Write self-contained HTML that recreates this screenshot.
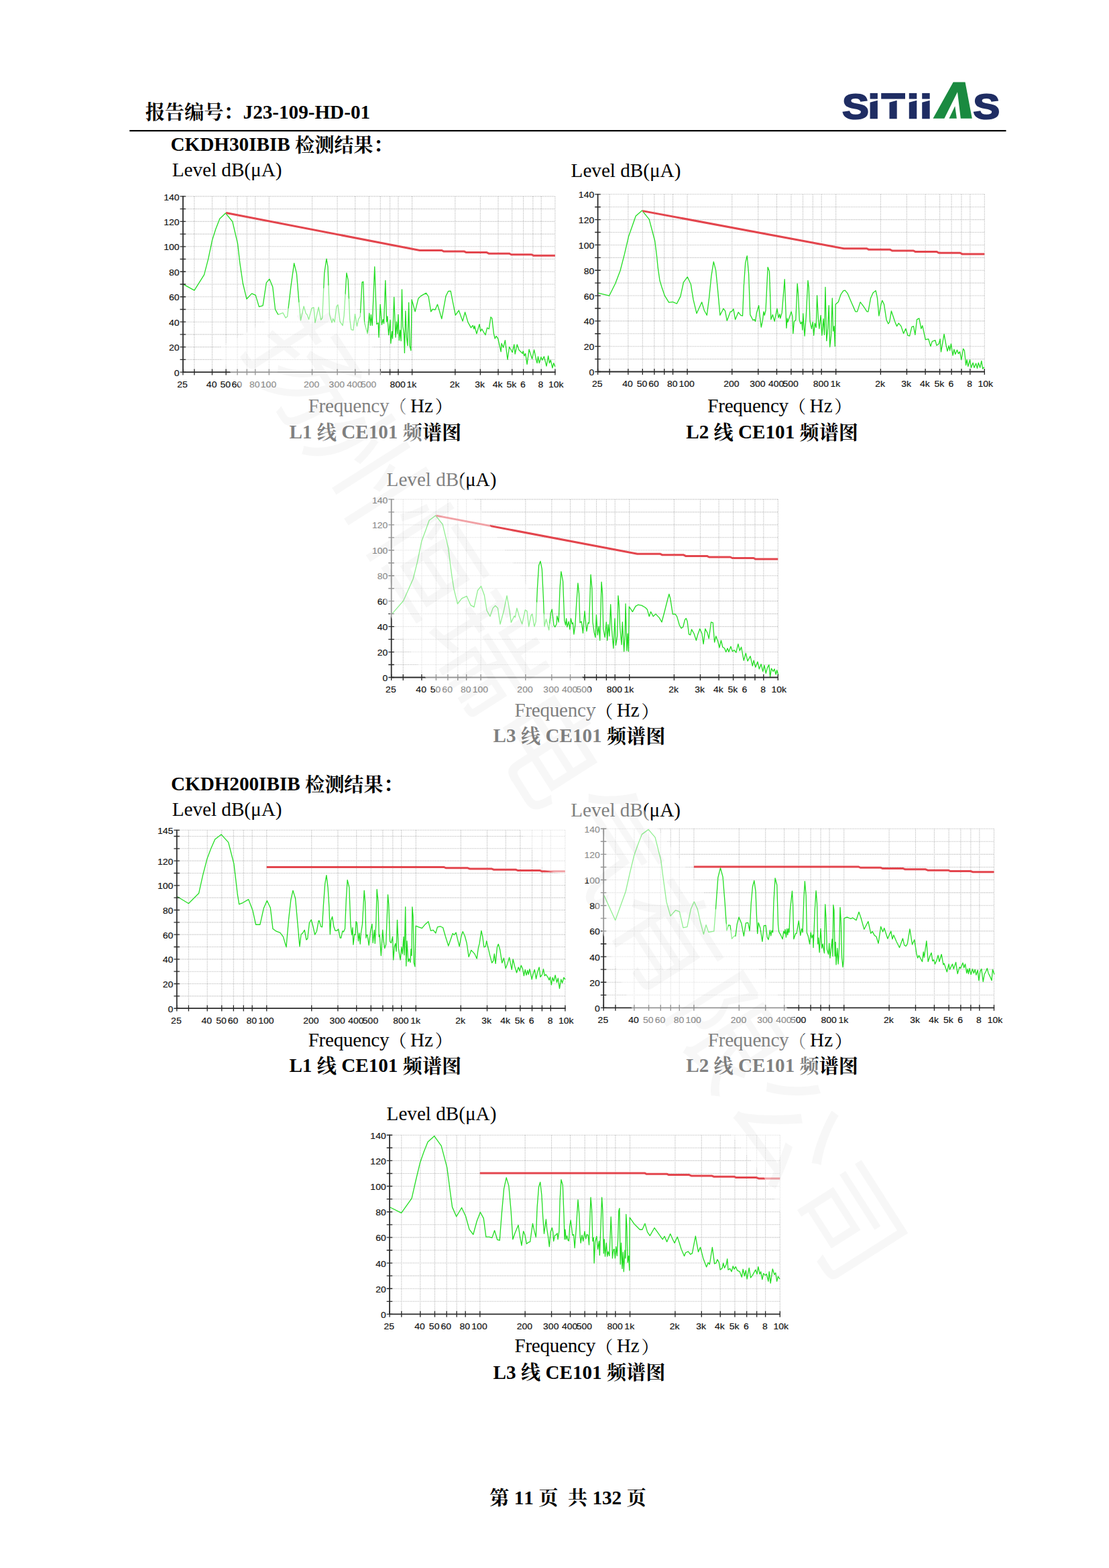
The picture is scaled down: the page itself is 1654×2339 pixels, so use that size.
<!DOCTYPE html>
<html lang="zh"><head><meta charset="utf-8"><title>J23-109-HD-01 CE101</title>
<style>
html,body{margin:0;padding:0;background:#fff}
body{width:1654px;height:2339px;overflow:hidden;font-family:"Liberation Serif","Noto Serif CJK SC",serif}
svg{display:block;font-family:"Liberation Serif","Noto Serif CJK SC",serif;font-kerning:none}
text{white-space:pre}
</style></head><body>
<svg width="1654" height="2339" viewBox="0 0 1654 2339">
<rect width="1654" height="2339" fill="#fff"/>
<text x="216.7" y="178.26" style="font-size:29.17px;font-weight:bold;" fill="#000">报告编号：</text>
<text x="362.55" y="176.8" style="font-size:29.17px;font-weight:bold;" fill="#000" xml:space="preserve">J23-109-HD-01</text>
<rect x="193.2" y="193.95" width="1307.3" height="2.2" fill="#000"/>
<text transform="translate(1256.2,176.7) scale(1.13,1)" style="font-family:'Liberation Sans',sans-serif;font-weight:bold;font-size:52.5px" fill="#1f2d63" stroke="#1f2d63" stroke-width="2.2">S</text>
<text transform="translate(1451.6,176.7) scale(1.13,1)" style="font-family:'Liberation Sans',sans-serif;font-weight:bold;font-size:52.5px" fill="#1f2d63" stroke="#1f2d63" stroke-width="2.2">S</text>
<rect x="1297.6" y="138.9" width="11.3" height="8.7" fill="#1f2d63"/>
<path d="M1297.6 152.7L1308.9 149.8V177.2H1297.6Z" fill="#1f2d63"/>
<rect x="1314.2" y="138.9" width="35.8" height="8.7" fill="#1f2d63"/>
<path d="M1326.5 152.7L1337.7 149.8V177.2H1326.5Z" fill="#1f2d63"/>
<rect x="1355.8" y="138.9" width="11.5" height="8.7" fill="#1f2d63"/>
<path d="M1355.8 152.7L1367.3 149.8V177.2H1355.8Z" fill="#1f2d63"/>
<rect x="1375.2" y="138.9" width="11.5" height="8.7" fill="#1f2d63"/>
<path d="M1375.2 152.7L1386.7 149.8V177.2H1375.2Z" fill="#1f2d63"/>
<path d="M1391.5 176.7L1421.7 122.4H1439.5L1449.8 176.7H1432.8L1428 137.2L1408.4 176.7Z" fill="#1a8a40"/>
<path d="M1424.3 158.2L1415.5 176.7H1426.9Z" fill="#1a8a40"/>
<text x="254.5" y="225.2" style="font-size:29.17px;font-weight:bold;" fill="#000" xml:space="preserve">CKDH30IBIB </text>
<text x="440.09" y="226.66" style="font-size:29.17px;font-weight:bold;" fill="#000">检测结果：</text>
<text x="254.9" y="1179.3" style="font-size:29.17px;font-weight:bold;" fill="#000" xml:space="preserve">CKDH200IBIB </text>
<text x="455.07" y="1180.76" style="font-size:29.17px;font-weight:bold;" fill="#000">检测结果：</text>
<path d="M272.9 536.37H827.9M272.9 517.64H827.9M272.9 498.91H827.9M272.9 480.19H827.9M272.9 461.46H827.9M272.9 442.73H827.9M272.9 424H827.9M272.9 405.27H827.9M272.9 386.54H827.9M272.9 367.81H827.9M272.9 349.09H827.9M272.9 330.36H827.9M272.9 311.63H827.9M272.9 292.9H827.9M289.79 292.9V555.1M316.44 292.9V555.1M337.11 292.9V555.1M354 292.9V555.1M368.28 292.9V555.1M380.64 292.9V555.1M401.31 292.9V555.1M465.52 292.9V555.1M503.08 292.9V555.1M529.73 292.9V555.1M550.4 292.9V555.1M567.29 292.9V555.1M581.57 292.9V555.1M593.94 292.9V555.1M614.61 292.9V555.1M678.81 292.9V555.1M716.37 292.9V555.1M743.02 292.9V555.1M763.69 292.9V555.1M780.58 292.9V555.1M794.86 292.9V555.1M807.23 292.9V555.1M827.9 292.9V555.1" stroke="#bababa" stroke-width="1.1" stroke-dasharray="1.25 1.25" fill="none"/>
<polyline points="272.59,423.62 289.83,433.1 304.48,409.83 310.52,386.55 316.55,358.1 321.72,341.72 327.76,326.21 336.38,317.93 346.72,330.52 354.48,363.28 357.93,393.45 362.24,422.76 367.93,446.03 375.52,437.93 381.21,440.34 386.38,457.59 392.07,455.86 397.24,421.9 401.9,416.21 406.72,427.93 410.52,461.55 414.83,469.31 422.07,466.72 426.03,474.14 428.62,471.9 433.79,427.93 438.62,392.59 442.41,408.1 445.86,450.34 448.45,477.93 453.1,456.9 456.21,467.59 457.93,469.31 460.52,476.55 464.83,459.83 467.93,458.62 470,481.38 475.17,458.1 478.62,477.07 480.69,474.48 483.79,407.24 486.9,386.21 488.97,397.76 491.55,469.31 495,481.38 496.72,475.34 498.97,480.52 501.9,457.24 503.97,454.66 507.07,479.66 511.03,485.69 513.1,471.03 516.9,407.24 519.14,417.59 521.72,476.21 523.79,491.72 526.9,492.59 529.48,468.45 532.41,486.55 534.66,476.21 537.24,471.9 540,421.07 541.79,420.18 543.57,481.79 548.04,497.86 550.71,467.5 552.5,485.36 553.39,469.29 555.18,485.36 558.75,397.86 561.79,483.57 564.11,481.79 565,503.21 567.14,454.11 569.46,484.46 571.25,476.43 572.5,482.68 574.82,418.39 576.61,480 577.86,471.96 579.64,499.64 581.96,477.32 582.86,512.14 584.64,494.29 585.54,505 587.68,443.39 590,503.21 591.43,480 592.68,497.86 593.93,469.29 595.36,507.68 596.79,492.5 598.04,508.57 599.46,431.79 600.71,487.14 602.5,497.86 603.39,526.43 604.82,463.93 606.43,503.21 607.86,515.71 609.64,451.43 611.07,515.71 612.86,522.86 613.57,487.14 614.11,446.96 615.89,453.21 619.11,464.82 623.93,445.18 627.5,441.61 635.54,437.14 639.11,442.5 642.68,464.82 645.36,461.25 648.93,462.14 652.5,454.11 658.75,475.54 665,441.61 668.57,434.46 672.14,434.11 674.82,447.86 679.29,470.18 684.29,463.04 690,479.11 693.57,465.71 698.04,480.89 702.5,488.93 705.18,485.36 706.96,490.71 707.86,486.25 710.89,497.86 715,483.57 716.79,494.29 718.57,490.71 723.93,499.64 726.61,488.93 729.29,490.71 731.96,472.86 733.75,474.64 736.43,497.86 738.21,505 740,501.43 742.68,505 747.14,524.64 748.04,512.14 750.71,518.39 753.39,507.68 756.96,536.25 759.64,517.5 764.11,525.54 766.79,513.93 768.21,528.21 771.25,513.93 773.93,521.96 779.29,527.32 780.18,523.75 781.96,530.89 783.75,527.32 786.07,543.39 789.11,521.07 793.57,535.36 796.61,521.96 799.82,537.14 801.07,541.61 802.5,531.79 804.29,541.61 806.96,532.68 808.75,537.14 811.43,531.79 815,546.07 817.68,530.89 819.46,541.61 821.25,537.14 823.93,548.75 825.71,541.61 827.86,546.96" fill="none" stroke="#22dd22" stroke-width="1.3" stroke-linejoin="round"/>
<polyline points="337.1,317.5 626,373.5 628.5,373.5 658.98,373.5 661.98,375.06 692.47,375.06 695.47,376.62 725.95,376.62 728.95,378.18 759.43,378.18 762.43,379.74 792.92,379.74 795.92,381.3 827.9,381.3" fill="none" stroke="#e3454d" stroke-width="3" stroke-linejoin="round"/>
<path d="M272.9 292.3V556M272 555.1H828.6" stroke="#2a2a2a" stroke-width="1.8" fill="none"/>
<path d="M268.5 555.1H277.1M268.5 536.37H277.1M268.5 517.64H277.1M268.5 498.91H277.1M268.5 480.19H277.1M268.5 461.46H277.1M268.5 442.73H277.1M268.5 424H277.1M268.5 405.27H277.1M268.5 386.54H277.1M268.5 367.81H277.1M268.5 349.09H277.1M268.5 330.36H277.1M268.5 311.63H277.1M268.5 292.9H277.1M272.9 550.5V559.5M289.79 550.5V559.5M316.44 550.5V559.5M337.11 550.5V559.5M354 550.5V559.5M368.28 550.5V559.5M380.64 550.5V559.5M401.31 550.5V559.5M465.52 550.5V559.5M503.08 550.5V559.5M529.73 550.5V559.5M550.4 550.5V559.5M567.29 550.5V559.5M581.57 550.5V559.5M593.94 550.5V559.5M614.61 550.5V559.5M678.81 550.5V559.5M716.37 550.5V559.5M743.02 550.5V559.5M763.69 550.5V559.5M780.58 550.5V559.5M794.86 550.5V559.5M807.23 550.5V559.5M827.9 550.5V559.5" stroke="#2a2a2a" stroke-width="1.35" fill="none"/>
<g style="font-family:'Liberation Sans',sans-serif;font-size:13.2px" fill="#111" stroke="#111" stroke-width="0.18"><text transform="translate(267.5,560.7) scale(1.06,1)" text-anchor="end">0</text><text transform="translate(267.5,523.24) scale(1.06,1)" text-anchor="end">20</text><text transform="translate(267.5,485.79) scale(1.06,1)" text-anchor="end">40</text><text transform="translate(267.5,448.33) scale(1.06,1)" text-anchor="end">60</text><text transform="translate(267.5,410.87) scale(1.06,1)" text-anchor="end">80</text><text transform="translate(267.5,373.41) scale(1.06,1)" text-anchor="end">100</text><text transform="translate(267.5,335.96) scale(1.06,1)" text-anchor="end">120</text><text transform="translate(267.5,298.5) scale(1.06,1)" text-anchor="end">140</text><text transform="translate(272.1,577.6) scale(1.06,1)" text-anchor="middle">25</text><text transform="translate(315.64,577.6) scale(1.06,1)" text-anchor="middle">40</text><text transform="translate(336.31,577.6) scale(1.06,1)" text-anchor="middle">50</text><text transform="translate(353.2,577.6) scale(1.06,1)" text-anchor="middle">60</text><text transform="translate(379.84,577.6) scale(1.06,1)" text-anchor="middle">80</text><text transform="translate(400.51,577.6) scale(1.06,1)" text-anchor="middle">100</text><text transform="translate(464.72,577.6) scale(1.06,1)" text-anchor="middle">200</text><text transform="translate(502.28,577.6) scale(1.06,1)" text-anchor="middle">300</text><text transform="translate(528.93,577.6) scale(1.06,1)" text-anchor="middle">400</text><text transform="translate(549.6,577.6) scale(1.06,1)" text-anchor="middle">500</text><text transform="translate(593.14,577.6) scale(1.06,1)" text-anchor="middle">800</text><text transform="translate(613.81,577.6) scale(1.06,1)" text-anchor="middle">1k</text><text transform="translate(678.01,577.6) scale(1.06,1)" text-anchor="middle">2k</text><text transform="translate(715.57,577.6) scale(1.06,1)" text-anchor="middle">3k</text><text transform="translate(742.22,577.6) scale(1.06,1)" text-anchor="middle">4k</text><text transform="translate(762.89,577.6) scale(1.06,1)" text-anchor="middle">5k</text><text transform="translate(779.78,577.6) scale(1.06,1)" text-anchor="middle">6</text><text transform="translate(806.43,577.6) scale(1.06,1)" text-anchor="middle">8</text><text transform="translate(829.3,577.6) scale(1.06,1)" text-anchor="middle">10k</text></g>
<path d="M891.6 535.59H1468.3M891.6 516.69H1468.3M891.6 497.78H1468.3M891.6 478.87H1468.3M891.6 459.96H1468.3M891.6 441.06H1468.3M891.6 422.15H1468.3M891.6 403.24H1468.3M891.6 384.34H1468.3M891.6 365.43H1468.3M891.6 346.52H1468.3M891.6 327.61H1468.3M891.6 308.71H1468.3M891.6 289.8H1468.3M909.15 289.8V554.5M936.84 289.8V554.5M958.32 289.8V554.5M975.87 289.8V554.5M990.7 289.8V554.5M1003.56 289.8V554.5M1025.04 289.8V554.5M1091.75 289.8V554.5M1130.78 289.8V554.5M1158.47 289.8V554.5M1179.95 289.8V554.5M1197.5 289.8V554.5M1212.34 289.8V554.5M1225.19 289.8V554.5M1246.67 289.8V554.5M1313.39 289.8V554.5M1352.41 289.8V554.5M1380.1 289.8V554.5M1401.58 289.8V554.5M1419.13 289.8V554.5M1433.97 289.8V554.5M1446.82 289.8V554.5M1468.3 289.8V554.5" stroke="#bababa" stroke-width="1.1" stroke-dasharray="1.25 1.25" fill="none"/>
<polyline points="892.27,437.23 908.61,441.22 917.7,423.06 924.96,403.98 931.32,379.46 937.68,352.21 943.13,336.77 948.22,322.24 957.66,314.06 968.2,327.14 976.73,359.48 979.46,381.28 981.28,399.44 984,418.51 987.63,430.32 991.27,440.86 997.62,451.21 1003.44,450.3 1009.43,453.03 1014.88,442.13 1019.42,421.24 1025.24,413.07 1030.32,423.96 1033.96,446.67 1039.04,467.56 1046.67,450.67 1050.3,463.02 1054.3,470.29 1057.57,444.85 1060.84,412.16 1064.29,390.36 1067.56,403.07 1070.29,430.32 1073.92,470.29 1079.01,460.3 1081.55,463.93 1084.27,478.46 1089.36,464.84 1091.18,464.84 1093.9,460.84 1096.63,476.64 1101.17,465.74 1104.8,470.29 1107.52,471.19 1109.34,426.69 1111.7,392.18 1114.25,381.64 1116.61,408.52 1118.79,469.38 1122.97,477.55 1125.15,476.64 1126.6,479.37 1128.42,466.65 1131.68,455.75 1133.5,473.92 1135.32,488.09 1137.5,477.55 1138.95,464.84 1140.22,470.29 1142.04,463.02 1145.13,398.53 1147.49,404.89 1149.85,476.64 1152.39,469.38 1155.12,479.37 1158.93,460.3 1161.11,473.92 1162.93,468.47 1163.84,474.83 1166.2,466.65 1170.2,416.7 1172.92,489.36 1174.19,474.83 1175,480.28 1177.18,473.92 1180.09,464.84 1181.9,472.1 1182.81,497.53 1184.45,479.37 1186.81,477.55 1189.17,423.06 1190.44,437.59 1192.26,477.55 1194.07,483 1195.89,480.28 1196.8,492.08 1197.71,467.56 1200.07,501.17 1202.25,472.1 1204.97,418.51 1206.24,428.51 1208.06,479.37 1210.42,490.27 1212.24,480.28 1213.69,500.26 1215.33,482.09 1217.14,488.45 1218.6,440.86 1220.41,475.74 1221.87,490.27 1224.05,470.29 1225.86,500.26 1228.04,475.74 1229.5,499.35 1230.95,428.51 1232.77,508.43 1234.58,490.27 1236.22,455.75 1237.67,517.52 1239.49,501.17 1241.3,444.85 1242.57,493.9 1244.03,486.63 1245.3,516.61 1246.21,453.94 1250.39,450.3 1254.02,439.41 1257.65,433.96 1260.38,433.05 1264.01,437.59 1269.46,450.3 1275.82,464.84 1278.54,464.84 1283.08,450.67 1287.62,456.66 1293.07,464.84 1294.89,464.84 1298.52,444.85 1302.16,436.68 1306.15,433.59 1308.51,444.85 1310.88,471.19 1313.96,453.94 1315.78,448.12 1318.51,453.94 1322.14,477.55 1324.86,483 1326.68,480.28 1329.41,463.93 1334.85,480.28 1337.58,486.63 1340.3,482.09 1343.94,486.63 1347.57,497.53 1350.84,490.27 1353.93,500.26 1356.65,501.17 1359.92,487.54 1362.47,486.63 1364.83,499.35 1367.55,476.64 1370.82,474.83 1373.91,490.27 1375.73,485.73 1380.27,506.62 1384.81,505.71 1387.9,516.61 1390.26,509.34 1394.8,507.52 1396.98,515.34 1400.25,512.97 1402.07,505.71 1403.52,524.78 1408.06,498.44 1411.15,515.7 1412.97,523.87 1415.15,515.7 1416.6,522.97 1418.42,512.97 1421.14,530.23 1422.96,521.15 1424.77,528.42 1427.5,522.06 1429.31,527.51 1431.49,524.78 1433.86,536.59 1436.58,520.24 1438.4,522.97 1440.58,544.76 1442.03,536.59 1443.85,546.58 1446.57,536.59 1448.39,548.4 1451.11,541.13 1452.93,548.4 1455.65,542.04 1457.47,549.31 1459.29,541.13 1461.65,548.4 1463.83,538.41 1465.64,550.21 1467.82,547.49" fill="none" stroke="#22dd22" stroke-width="1.3" stroke-linejoin="round"/>
<polyline points="958.3,314.6 1258.5,370.7 1261,370.7 1292.8,370.7 1295.8,372.34 1327.6,372.34 1330.6,373.98 1362.4,373.98 1365.4,375.62 1397.2,375.62 1400.2,377.26 1432,377.26 1435,378.9 1468.3,378.9" fill="none" stroke="#e3454d" stroke-width="3" stroke-linejoin="round"/>
<path d="M891.6 289.2V555.4M890.7 554.5H1469" stroke="#2a2a2a" stroke-width="1.8" fill="none"/>
<path d="M887.2 554.5H895.8M887.2 535.59H895.8M887.2 516.69H895.8M887.2 497.78H895.8M887.2 478.87H895.8M887.2 459.96H895.8M887.2 441.06H895.8M887.2 422.15H895.8M887.2 403.24H895.8M887.2 384.34H895.8M887.2 365.43H895.8M887.2 346.52H895.8M887.2 327.61H895.8M887.2 308.71H895.8M887.2 289.8H895.8M891.6 549.9V558.9M909.15 549.9V558.9M936.84 549.9V558.9M958.32 549.9V558.9M975.87 549.9V558.9M990.7 549.9V558.9M1003.56 549.9V558.9M1025.04 549.9V558.9M1091.75 549.9V558.9M1130.78 549.9V558.9M1158.47 549.9V558.9M1179.95 549.9V558.9M1197.5 549.9V558.9M1212.34 549.9V558.9M1225.19 549.9V558.9M1246.67 549.9V558.9M1313.39 549.9V558.9M1352.41 549.9V558.9M1380.1 549.9V558.9M1401.58 549.9V558.9M1419.13 549.9V558.9M1433.97 549.9V558.9M1446.82 549.9V558.9M1468.3 549.9V558.9" stroke="#2a2a2a" stroke-width="1.35" fill="none"/>
<g style="font-family:'Liberation Sans',sans-serif;font-size:13.2px" fill="#111" stroke="#111" stroke-width="0.18"><text transform="translate(886.2,560.1) scale(1.06,1)" text-anchor="end">0</text><text transform="translate(886.2,522.29) scale(1.06,1)" text-anchor="end">20</text><text transform="translate(886.2,484.47) scale(1.06,1)" text-anchor="end">40</text><text transform="translate(886.2,446.66) scale(1.06,1)" text-anchor="end">60</text><text transform="translate(886.2,408.84) scale(1.06,1)" text-anchor="end">80</text><text transform="translate(886.2,371.03) scale(1.06,1)" text-anchor="end">100</text><text transform="translate(886.2,333.21) scale(1.06,1)" text-anchor="end">120</text><text transform="translate(886.2,295.4) scale(1.06,1)" text-anchor="end">140</text><text transform="translate(890.8,577) scale(1.06,1)" text-anchor="middle">25</text><text transform="translate(936.04,577) scale(1.06,1)" text-anchor="middle">40</text><text transform="translate(957.52,577) scale(1.06,1)" text-anchor="middle">50</text><text transform="translate(975.07,577) scale(1.06,1)" text-anchor="middle">60</text><text transform="translate(1002.76,577) scale(1.06,1)" text-anchor="middle">80</text><text transform="translate(1024.24,577) scale(1.06,1)" text-anchor="middle">100</text><text transform="translate(1090.95,577) scale(1.06,1)" text-anchor="middle">200</text><text transform="translate(1129.98,577) scale(1.06,1)" text-anchor="middle">300</text><text transform="translate(1157.67,577) scale(1.06,1)" text-anchor="middle">400</text><text transform="translate(1179.15,577) scale(1.06,1)" text-anchor="middle">500</text><text transform="translate(1224.39,577) scale(1.06,1)" text-anchor="middle">800</text><text transform="translate(1245.87,577) scale(1.06,1)" text-anchor="middle">1k</text><text transform="translate(1312.59,577) scale(1.06,1)" text-anchor="middle">2k</text><text transform="translate(1351.61,577) scale(1.06,1)" text-anchor="middle">3k</text><text transform="translate(1379.3,577) scale(1.06,1)" text-anchor="middle">4k</text><text transform="translate(1400.78,577) scale(1.06,1)" text-anchor="middle">5k</text><text transform="translate(1418.33,577) scale(1.06,1)" text-anchor="middle">6</text><text transform="translate(1446.02,577) scale(1.06,1)" text-anchor="middle">8</text><text transform="translate(1469.7,577) scale(1.06,1)" text-anchor="middle">10k</text></g>
<path d="M583.7 991.53H1160.3M583.7 972.56H1160.3M583.7 953.59H1160.3M583.7 934.61H1160.3M583.7 915.64H1160.3M583.7 896.67H1160.3M583.7 877.7H1160.3M583.7 858.73H1160.3M583.7 839.76H1160.3M583.7 820.79H1160.3M583.7 801.81H1160.3M583.7 782.84H1160.3M583.7 763.87H1160.3M583.7 744.9H1160.3M601.25 744.9V1010.5M628.93 744.9V1010.5M650.41 744.9V1010.5M667.95 744.9V1010.5M682.79 744.9V1010.5M695.64 744.9V1010.5M717.11 744.9V1010.5M783.82 744.9V1010.5M822.84 744.9V1010.5M850.53 744.9V1010.5M872 744.9V1010.5M889.55 744.9V1010.5M904.38 744.9V1010.5M917.23 744.9V1010.5M938.71 744.9V1010.5M1005.41 744.9V1010.5M1044.43 744.9V1010.5M1072.12 744.9V1010.5M1093.59 744.9V1010.5M1111.14 744.9V1010.5M1125.97 744.9V1010.5M1138.83 744.9V1010.5M1160.3 744.9V1010.5" stroke="#bababa" stroke-width="1.1" stroke-dasharray="1.25 1.25" fill="none"/>
<polyline points="584.36,916.2 601.61,896.22 616.15,863.52 622.5,838.09 628.86,807.21 635.22,789.95 640.13,776.33 649.75,769.06 660.11,782.14 668.83,818.11 671.55,841.73 674.28,861.71 677,878.96 682.45,900.76 688.81,892.59 696.07,889.32 701.89,902.58 706.97,905.67 712.42,880.78 717.51,874.42 722.41,888.05 726.05,910.75 730.95,919.47 735.13,907.12 738.76,903.49 742.4,907.12 746.03,931.1 751.48,910.75 756.02,888.59 759.65,908.94 762.38,928.56 766.92,918.93 768.37,920.74 770.92,907.12 774.19,918.93 778.73,930.74 783.27,909.85 785.99,911.66 788.72,934.73 791.99,918.02 793.8,915.84 796.89,934.73 799.25,927.1 801.43,878.06 803.61,843.54 805.97,837.18 808.34,848.99 810.52,894.41 811.97,934.73 814.51,923.47 818.69,939.82 821.42,914.39 823.23,908.94 825.96,932.55 827.77,935.28 830.13,930.74 830.86,918.93 833.22,928.01 835.04,878.06 836.86,852.62 839.58,867.16 841.76,925.29 843.58,932.55 844.67,922.56 845.94,935.28 848.12,927.1 849.93,938.91 851.39,922.56 853.2,930.74 854.48,928.92 855.93,946.18 857.75,933.46 859.56,903.49 861.92,869.88 863.56,885.32 865.01,928.92 867.19,927.1 868,932.55 869.45,944.36 872,911.66 874.9,941.63 877.08,928.92 878.54,929.83 881.08,857.17 882.9,878.06 883.99,928.01 886.17,943.45 887.98,950.72 889.44,917.11 891.25,947.08 893.07,934.37 894.7,955.26 897.06,868.07 898.52,885.32 899.79,938 902.15,950.72 904.33,928.01 905.78,955.26 907.06,931.64 908.87,948.9 910.69,901.67 912.5,939.82 914.87,967.07 917.05,922.56 918.5,962.52 920.68,948.9 921.95,888.59 923.4,903.49 924.68,936.19 927.04,961.62 928.31,928.01 930.67,971.61 932.12,947.08 933.03,900.76 934.85,970.7 936.12,945.27 937.39,971.61 938.3,904.94 943.39,912.57 947.93,904.4 951.56,902.22 957.01,903.12 962.46,906.21 965.18,908.94 968.27,919.47 970.63,912.57 974.27,919.47 977.9,915.84 983.35,921.65 986.98,928.01 991.52,910.75 995.16,896.22 997.88,886.23 999.7,892.59 1003.33,916.2 1006.96,915.84 1009.69,919.84 1013.32,932.55 1016.05,937.09 1018.77,935.28 1021.5,924.38 1023.31,922.56 1025.13,927.1 1027.49,946.18 1029.67,947.08 1031.49,938.91 1035.12,945.27 1038.39,955.26 1040.57,947.08 1043.84,938 1046.93,945.27 1049.11,960.71 1051.83,938 1055.1,944.36 1057.28,952.53 1060.55,928.01 1063.28,928.92 1065.64,957.98 1067.82,948.9 1070.54,956.17 1072.9,966.16 1075.45,955.26 1077.81,965.25 1080.53,967.07 1082.71,972.52 1085.08,967.07 1086.89,972.52 1089.98,964.34 1092.34,971.61 1095.07,969.79 1097.79,973.42 1100.88,960.71 1103.24,970.7 1105.6,965.25 1109.24,985.23 1112.32,974.33 1115.05,986.14 1119.04,978.87 1122.31,993.41 1124.13,985.23 1126.86,995.22 1129.94,987.05 1132.31,997.95 1135.03,990.68 1137.75,1001.58 1139.93,992.5 1142.3,1004.31 1144.48,996.13 1146.84,991.59 1148.65,1009.75 1150.47,997.04 1153.2,1001.58 1155.01,997.95 1157.19,1006.12 1158.64,999.76 1160.82,1007.03" fill="none" stroke="#22dd22" stroke-width="1.3" stroke-linejoin="round"/>
<polyline points="650.4,769.1 950.6,826.3 953.1,826.3 984.88,826.3 987.88,827.86 1019.67,827.86 1022.67,829.42 1054.45,829.42 1057.45,830.98 1089.23,830.98 1092.23,832.54 1124.02,832.54 1127.02,834.1 1160.3,834.1" fill="none" stroke="#e3454d" stroke-width="3" stroke-linejoin="round"/>
<path d="M583.7 744.3V1011.4M582.8 1010.5H1161" stroke="#2a2a2a" stroke-width="1.8" fill="none"/>
<path d="M579.3 1010.5H587.9M579.3 991.53H587.9M579.3 972.56H587.9M579.3 953.59H587.9M579.3 934.61H587.9M579.3 915.64H587.9M579.3 896.67H587.9M579.3 877.7H587.9M579.3 858.73H587.9M579.3 839.76H587.9M579.3 820.79H587.9M579.3 801.81H587.9M579.3 782.84H587.9M579.3 763.87H587.9M579.3 744.9H587.9M583.7 1005.9V1014.9M601.25 1005.9V1014.9M628.93 1005.9V1014.9M650.41 1005.9V1014.9M667.95 1005.9V1014.9M682.79 1005.9V1014.9M695.64 1005.9V1014.9M717.11 1005.9V1014.9M783.82 1005.9V1014.9M822.84 1005.9V1014.9M850.53 1005.9V1014.9M872 1005.9V1014.9M889.55 1005.9V1014.9M904.38 1005.9V1014.9M917.23 1005.9V1014.9M938.71 1005.9V1014.9M1005.41 1005.9V1014.9M1044.43 1005.9V1014.9M1072.12 1005.9V1014.9M1093.59 1005.9V1014.9M1111.14 1005.9V1014.9M1125.97 1005.9V1014.9M1138.83 1005.9V1014.9M1160.3 1005.9V1014.9" stroke="#2a2a2a" stroke-width="1.35" fill="none"/>
<g style="font-family:'Liberation Sans',sans-serif;font-size:13.2px" fill="#111" stroke="#111" stroke-width="0.18"><text transform="translate(578.3,1016.1) scale(1.06,1)" text-anchor="end">0</text><text transform="translate(578.3,978.16) scale(1.06,1)" text-anchor="end">20</text><text transform="translate(578.3,940.21) scale(1.06,1)" text-anchor="end">40</text><text transform="translate(578.3,902.27) scale(1.06,1)" text-anchor="end">60</text><text transform="translate(578.3,864.33) scale(1.06,1)" text-anchor="end">80</text><text transform="translate(578.3,826.39) scale(1.06,1)" text-anchor="end">100</text><text transform="translate(578.3,788.44) scale(1.06,1)" text-anchor="end">120</text><text transform="translate(578.3,750.5) scale(1.06,1)" text-anchor="end">140</text><text transform="translate(582.9,1033) scale(1.06,1)" text-anchor="middle">25</text><text transform="translate(628.13,1033) scale(1.06,1)" text-anchor="middle">40</text><text transform="translate(649.61,1033) scale(1.06,1)" text-anchor="middle">50</text><text transform="translate(667.15,1033) scale(1.06,1)" text-anchor="middle">60</text><text transform="translate(694.84,1033) scale(1.06,1)" text-anchor="middle">80</text><text transform="translate(716.31,1033) scale(1.06,1)" text-anchor="middle">100</text><text transform="translate(783.02,1033) scale(1.06,1)" text-anchor="middle">200</text><text transform="translate(822.04,1033) scale(1.06,1)" text-anchor="middle">300</text><text transform="translate(849.73,1033) scale(1.06,1)" text-anchor="middle">400</text><text transform="translate(871.2,1033) scale(1.06,1)" text-anchor="middle">500</text><text transform="translate(916.43,1033) scale(1.06,1)" text-anchor="middle">800</text><text transform="translate(937.91,1033) scale(1.06,1)" text-anchor="middle">1k</text><text transform="translate(1004.61,1033) scale(1.06,1)" text-anchor="middle">2k</text><text transform="translate(1043.63,1033) scale(1.06,1)" text-anchor="middle">3k</text><text transform="translate(1071.32,1033) scale(1.06,1)" text-anchor="middle">4k</text><text transform="translate(1092.79,1033) scale(1.06,1)" text-anchor="middle">5k</text><text transform="translate(1110.34,1033) scale(1.06,1)" text-anchor="middle">6</text><text transform="translate(1138.03,1033) scale(1.06,1)" text-anchor="middle">8</text><text transform="translate(1161.7,1033) scale(1.06,1)" text-anchor="middle">10k</text></g>
<path d="M263.7 1485.86H842.9M263.7 1467.52H842.9M263.7 1449.19H842.9M263.7 1430.85H842.9M263.7 1412.51H842.9M263.7 1394.17H842.9M263.7 1375.83H842.9M263.7 1357.5H842.9M263.7 1339.16H842.9M263.7 1320.82H842.9M263.7 1302.48H842.9M263.7 1284.14H842.9M263.7 1265.81H842.9M263.7 1247.47H842.9M263.7 1238.3H842.9M281.33 1238.3V1504.2M309.14 1238.3V1504.2M330.71 1238.3V1504.2M348.33 1238.3V1504.2M363.23 1238.3V1504.2M376.14 1238.3V1504.2M397.71 1238.3V1504.2M464.72 1238.3V1504.2M503.92 1238.3V1504.2M531.73 1238.3V1504.2M553.3 1238.3V1504.2M570.93 1238.3V1504.2M585.83 1238.3V1504.2M598.74 1238.3V1504.2M620.31 1238.3V1504.2M687.31 1238.3V1504.2M726.51 1238.3V1504.2M754.32 1238.3V1504.2M775.89 1238.3V1504.2M793.52 1238.3V1504.2M808.42 1238.3V1504.2M821.33 1238.3V1504.2M842.9 1238.3V1504.2" stroke="#bababa" stroke-width="1.1" stroke-dasharray="1.25 1.25" fill="none"/>
<polyline points="264.36,1337.45 281.25,1347.8 296.51,1332.55 302.5,1305.66 308.86,1281.14 314.31,1266.61 320.67,1252.07 330.12,1244.81 340.65,1256.61 348.83,1288.4 351.55,1311.11 354.28,1334.73 356.64,1348.89 362.45,1346.53 370.62,1341.63 376.98,1358.34 381.52,1379.23 387.88,1379.23 393.33,1354.71 398.24,1343.45 403.32,1354.34 406.96,1385.59 412.04,1389.22 417.85,1391.4 422.4,1397.4 426.94,1412.84 430.57,1371.06 433.84,1341.99 436.93,1328.37 440.56,1340.18 443.65,1374.69 446.92,1411.93 449.1,1393.76 451.46,1391.95 454.19,1387.41 456.91,1401.94 458.73,1400.12 461.45,1376.51 464.18,1371.96 466.9,1381.96 469.63,1394.31 472.35,1389.22 475.08,1373.78 475.98,1373.24 478.71,1382.32 480.52,1382.86 482.34,1351.07 484.7,1318.38 486.88,1305.66 489.06,1323.83 490.88,1352.89 492.33,1393.76 493.6,1372.87 495.6,1367.42 497.78,1381.96 499.96,1388.31 502.32,1388.31 504.68,1385.95 507.23,1399.21 508.68,1399.21 510.86,1388.86 512.31,1390.13 514.49,1385.59 516.31,1341.99 518.13,1312.56 520.85,1323.83 522.85,1378.32 524.67,1394.67 525.94,1383.77 526.85,1409.2 528.66,1393.76 529.93,1394.67 531.02,1374.69 532.3,1376.51 534.48,1403.75 535.93,1391.95 537.2,1408.3 538.29,1392.85 540.47,1378.32 543.2,1328.37 544.65,1345.62 545.92,1399.21 546.83,1394.67 548,1394.67 550.18,1410.11 552.54,1389.22 554.9,1378.32 556.17,1406.48 558.35,1387.41 559.26,1407.39 560.72,1380.14 562.17,1326.55 563.99,1345.62 565.26,1397.4 566.17,1394.67 568.35,1425.55 570.71,1387.41 571.98,1401.94 573.79,1414.65 575.61,1409.2 577.06,1372.87 578.52,1334.73 579.79,1349.26 581.61,1404.66 583.42,1406.48 585.6,1397.4 586.69,1431.91 588.33,1411.93 589.78,1407.39 591.05,1419.19 592.5,1372.51 594.32,1414.65 595.59,1422.83 597.05,1431.91 598.86,1412.84 600.32,1422.83 601.95,1397.4 603.04,1424.64 604.68,1352.89 605.77,1440.99 607.04,1403.75 608.85,1434.63 610.31,1430.09 611.94,1435.54 613.03,1415.56 613.94,1425.55 614.85,1352.89 616.12,1367.42 617.39,1436.45 618.84,1441.9 620.12,1381.05 624.29,1382.86 629.38,1384.68 634.29,1378.69 638.83,1374.69 642.46,1388.31 646.09,1387.41 649.73,1391.95 652.45,1382.86 656.99,1381.96 660.62,1383.77 664.26,1396.49 668.8,1411.02 675.16,1392.49 677.34,1394.67 680.06,1391.04 685.15,1411.93 687.87,1396.49 690.23,1389.58 693.32,1396.49 696.05,1406.48 699.14,1427.37 702.77,1417.38 707.85,1422.83 711.12,1430.09 713.3,1414.65 715.12,1407.39 717.85,1388.31 719.66,1396.49 721.84,1412.84 724.2,1411.93 725.66,1403.75 727.84,1412.84 730.56,1424.64 733.65,1436.45 736.01,1432.82 737.28,1422.83 739.1,1437.36 741.46,1412.84 743.28,1408.3 745.64,1416.47 748.73,1436.45 751.45,1429.19 754.18,1444.63 756.9,1437.36 759.63,1428.28 763.26,1446.44 765.08,1431 767.8,1441.9 770.52,1450.98 773.25,1442.81 775.07,1448.26 777.25,1440.08 779.61,1445.53 781.42,1455.52 783.24,1446.44 785.06,1454.62 786.87,1447.35 788.15,1453.71 789.96,1445.53 793.23,1460.97 795.41,1451.89 797.23,1446.44 799.59,1460.07 801.41,1450.98 804.13,1442.81 805.95,1457.34 808.67,1453.71 810.49,1445.53 812.31,1455.52 814.12,1453.71 816.85,1457.34 819.03,1461.88 820.48,1457.34 822.3,1469.15 824.11,1458.25 825.93,1463.7 828.11,1454.62 830.47,1465.52 832.29,1459.16 834.47,1474.6 836.83,1460.97 838.64,1466.42 840.82,1458.25 843,1460.97" fill="none" stroke="#22dd22" stroke-width="1.3" stroke-linejoin="round"/>
<polyline points="397.7,1293.5 662.3,1293.5 664.8,1294.76 697.72,1294.76 700.72,1296.02 733.64,1296.02 736.64,1297.28 769.56,1297.28 772.56,1298.54 805.48,1298.54 808.48,1299.8 842.9,1299.8" fill="none" stroke="#e3454d" stroke-width="3" stroke-linejoin="round"/>
<path d="M263.7 1237.7V1505.1M262.8 1504.2H843.6" stroke="#2a2a2a" stroke-width="1.8" fill="none"/>
<path d="M259.3 1504.2H267.9M259.3 1485.86H267.9M259.3 1467.52H267.9M259.3 1449.19H267.9M259.3 1430.85H267.9M259.3 1412.51H267.9M259.3 1394.17H267.9M259.3 1375.83H267.9M259.3 1357.5H267.9M259.3 1339.16H267.9M259.3 1320.82H267.9M259.3 1302.48H267.9M259.3 1284.14H267.9M259.3 1265.81H267.9M259.3 1247.47H267.9M259.3 1238.3H267.9M263.7 1499.6V1508.6M281.33 1499.6V1508.6M309.14 1499.6V1508.6M330.71 1499.6V1508.6M348.33 1499.6V1508.6M363.23 1499.6V1508.6M376.14 1499.6V1508.6M397.71 1499.6V1508.6M464.72 1499.6V1508.6M503.92 1499.6V1508.6M531.73 1499.6V1508.6M553.3 1499.6V1508.6M570.93 1499.6V1508.6M585.83 1499.6V1508.6M598.74 1499.6V1508.6M620.31 1499.6V1508.6M687.31 1499.6V1508.6M726.51 1499.6V1508.6M754.32 1499.6V1508.6M775.89 1499.6V1508.6M793.52 1499.6V1508.6M808.42 1499.6V1508.6M821.33 1499.6V1508.6M842.9 1499.6V1508.6" stroke="#2a2a2a" stroke-width="1.35" fill="none"/>
<g style="font-family:'Liberation Sans',sans-serif;font-size:13.2px" fill="#111" stroke="#111" stroke-width="0.18"><text transform="translate(258.3,1509.8) scale(1.06,1)" text-anchor="end">0</text><text transform="translate(258.3,1473.12) scale(1.06,1)" text-anchor="end">20</text><text transform="translate(258.3,1436.45) scale(1.06,1)" text-anchor="end">40</text><text transform="translate(258.3,1399.77) scale(1.06,1)" text-anchor="end">60</text><text transform="translate(258.3,1363.1) scale(1.06,1)" text-anchor="end">80</text><text transform="translate(258.3,1326.42) scale(1.06,1)" text-anchor="end">100</text><text transform="translate(258.3,1289.74) scale(1.06,1)" text-anchor="end">120</text><text transform="translate(258.3,1243.9) scale(1.06,1)" text-anchor="end">145</text><text transform="translate(262.9,1526.7) scale(1.06,1)" text-anchor="middle">25</text><text transform="translate(308.34,1526.7) scale(1.06,1)" text-anchor="middle">40</text><text transform="translate(329.91,1526.7) scale(1.06,1)" text-anchor="middle">50</text><text transform="translate(347.53,1526.7) scale(1.06,1)" text-anchor="middle">60</text><text transform="translate(375.34,1526.7) scale(1.06,1)" text-anchor="middle">80</text><text transform="translate(396.91,1526.7) scale(1.06,1)" text-anchor="middle">100</text><text transform="translate(463.92,1526.7) scale(1.06,1)" text-anchor="middle">200</text><text transform="translate(503.12,1526.7) scale(1.06,1)" text-anchor="middle">300</text><text transform="translate(530.93,1526.7) scale(1.06,1)" text-anchor="middle">400</text><text transform="translate(552.5,1526.7) scale(1.06,1)" text-anchor="middle">500</text><text transform="translate(597.94,1526.7) scale(1.06,1)" text-anchor="middle">800</text><text transform="translate(619.51,1526.7) scale(1.06,1)" text-anchor="middle">1k</text><text transform="translate(686.51,1526.7) scale(1.06,1)" text-anchor="middle">2k</text><text transform="translate(725.71,1526.7) scale(1.06,1)" text-anchor="middle">3k</text><text transform="translate(753.52,1526.7) scale(1.06,1)" text-anchor="middle">4k</text><text transform="translate(775.09,1526.7) scale(1.06,1)" text-anchor="middle">5k</text><text transform="translate(792.72,1526.7) scale(1.06,1)" text-anchor="middle">6</text><text transform="translate(820.53,1526.7) scale(1.06,1)" text-anchor="middle">8</text><text transform="translate(844.3,1526.7) scale(1.06,1)" text-anchor="middle">10k</text></g>
<path d="M900.2 1484.31H1482.5M900.2 1465.23H1482.5M900.2 1446.14H1482.5M900.2 1427.06H1482.5M900.2 1407.97H1482.5M900.2 1388.89H1482.5M900.2 1369.8H1482.5M900.2 1350.71H1482.5M900.2 1331.63H1482.5M900.2 1312.54H1482.5M900.2 1293.46H1482.5M900.2 1274.37H1482.5M900.2 1255.29H1482.5M900.2 1236.2H1482.5M917.92 1236.2V1503.4M945.88 1236.2V1503.4M967.57 1236.2V1503.4M985.29 1236.2V1503.4M1000.27 1236.2V1503.4M1013.24 1236.2V1503.4M1034.93 1236.2V1503.4M1102.3 1236.2V1503.4M1141.7 1236.2V1503.4M1169.66 1236.2V1503.4M1191.35 1236.2V1503.4M1209.07 1236.2V1503.4M1224.05 1236.2V1503.4M1237.03 1236.2V1503.4M1258.72 1236.2V1503.4M1326.08 1236.2V1503.4M1365.49 1236.2V1503.4M1393.45 1236.2V1503.4M1415.13 1236.2V1503.4M1432.85 1236.2V1503.4M1447.84 1236.2V1503.4M1460.81 1236.2V1503.4M1482.5 1236.2V1503.4" stroke="#bababa" stroke-width="1.1" stroke-dasharray="1.25 1.25" fill="none"/>
<polyline points="900.81,1335.45 917.71,1372.69 933.15,1330 939.5,1301.84 945.86,1275.5 951.68,1259.16 957.31,1244.62 967.12,1237.36 977.11,1249.17 985.83,1283.68 988.55,1305.48 991.28,1325.46 994,1345.44 1000,1366.33 1007.62,1357.79 1013.44,1359.97 1018.89,1383.95 1024.88,1382.68 1030.33,1356.34 1035.24,1345.08 1040.32,1356.34 1044.86,1376.32 1049.41,1393.58 1053.04,1379.59 1056.67,1390.49 1064.85,1389.04 1067.57,1354.52 1070.84,1309.11 1074.47,1294.58 1078.11,1308.2 1081.19,1347.26 1083.92,1388.13 1086.64,1379.96 1089.01,1380.32 1091.55,1400.3 1094.82,1396.3 1097,1396.3 1099.36,1378.14 1102.08,1368.15 1105.72,1377.23 1109.35,1396.3 1112.44,1376.87 1115.71,1376.32 1118.07,1388.67 1120.25,1347.26 1122.43,1322.73 1124.79,1313.65 1126.97,1329.09 1128.42,1365.42 1129.7,1392.67 1131.15,1376.32 1133.87,1384.5 1136.96,1404.48 1139.32,1380.86 1142.05,1380.32 1144.23,1398.12 1146.04,1401.75 1148.41,1387.58 1149.68,1395.94 1151.13,1388.13 1152.58,1390.85 1153.86,1347.26 1156.04,1310.02 1158.76,1320.01 1160.58,1379.96 1161.67,1389.95 1164.75,1395.4 1167.12,1400.85 1168.75,1389.04 1170.2,1392.67 1171.11,1386.31 1172.38,1398.12 1173.84,1385.41 1174.75,1394.49 1176.02,1385.41 1176.93,1390.85 1178.38,1358.16 1181.47,1329.09 1182.56,1349.07 1183.83,1400.85 1186.55,1392.67 1188,1392.67 1191.27,1373.6 1193.81,1395.4 1195.63,1385.41 1197.08,1390.85 1198.9,1339.99 1200.35,1314.56 1202.17,1336.36 1203.44,1391.76 1205.26,1396.3 1207.62,1408.11 1209.25,1390.85 1210.71,1399.03 1212.52,1394.49 1213.07,1413.56 1215.25,1358.16 1217.06,1328.73 1218.52,1347.26 1219.79,1408.11 1220.7,1399.03 1222.15,1420.83 1223.97,1385.41 1225.78,1414.47 1227.06,1408.11 1229.42,1421.74 1230.69,1349.07 1231.96,1369.06 1233.41,1416.29 1235.59,1423.55 1236.68,1407.2 1237.95,1429 1239.77,1412.65 1241.04,1400.85 1241.95,1426.28 1242.86,1349.98 1243.95,1358.16 1245.22,1426.28 1246.13,1405.39 1247.04,1438.99 1248.85,1414.47 1250.13,1438.08 1251.58,1414.47 1253.03,1353.62 1254.3,1376.32 1255.57,1428.09 1257.03,1442.63 1258.3,1430.82 1258.84,1369.96 1263.39,1368.15 1268.84,1370.51 1271.56,1369.06 1277.01,1372.69 1281.01,1360.34 1284.28,1369.96 1288.82,1386.31 1294.81,1374.51 1298.81,1392.31 1300.99,1389.4 1304.26,1395.4 1306.98,1397.21 1310.07,1407.2 1313.7,1382.14 1316.61,1389.95 1318.79,1384.5 1323.88,1400.3 1328.78,1389.04 1330.96,1400.85 1332.78,1394.85 1336.96,1404.48 1341.5,1413.56 1346.4,1399.94 1348.76,1409.93 1351.12,1411.38 1353.3,1408.11 1356.94,1385.77 1360.57,1409.02 1363.84,1401.75 1366.93,1422.64 1368.74,1429 1370.56,1425.37 1375.47,1434.45 1377.28,1419.92 1378.37,1428.09 1381.82,1403.57 1384.19,1434.45 1386.91,1426.28 1389.09,1421.37 1390.91,1433.54 1392.72,1431.73 1394.54,1438.08 1396.9,1432.63 1399.08,1425.01 1400.9,1434.45 1404.17,1423.55 1406.89,1438.99 1408.16,1437.18 1412.34,1449.89 1415.07,1438.08 1416.52,1446.26 1420.52,1438.08 1422.33,1445.35 1425.6,1435.36 1428.15,1452.62 1431.05,1442.63 1432.69,1444.44 1435.96,1436.27 1437.77,1443.53 1439.59,1438.08 1441.77,1451.71 1443.22,1445.35 1444.49,1452.62 1445.95,1444.44 1448.13,1453.52 1450.49,1445.35 1452.31,1451.71 1454.12,1446.26 1455.94,1454.43 1458.12,1447.17 1459.93,1462.61 1461.93,1448.98 1463.75,1445.35 1466.29,1464.42 1468.11,1453.52 1470.47,1448.98 1472.29,1444.44 1474.1,1451.71 1476.83,1457.16 1479.01,1462.61 1480.46,1446.26 1483,1453.52" fill="none" stroke="#22dd22" stroke-width="1.3" stroke-linejoin="round"/>
<polyline points="1034.9,1293 1280.6,1293 1283.1,1294.28 1313.58,1294.28 1316.58,1295.57 1347.07,1295.57 1350.07,1296.85 1380.55,1296.85 1383.55,1298.13 1414.03,1298.13 1417.03,1299.42 1447.52,1299.42 1450.52,1300.7 1482.5,1300.7" fill="none" stroke="#e3454d" stroke-width="3" stroke-linejoin="round"/>
<path d="M900.2 1235.6V1504.3M899.3 1503.4H1483.2" stroke="#2a2a2a" stroke-width="1.8" fill="none"/>
<path d="M895.8 1503.4H904.4M895.8 1484.31H904.4M895.8 1465.23H904.4M895.8 1446.14H904.4M895.8 1427.06H904.4M895.8 1407.97H904.4M895.8 1388.89H904.4M895.8 1369.8H904.4M895.8 1350.71H904.4M895.8 1331.63H904.4M895.8 1312.54H904.4M895.8 1293.46H904.4M895.8 1274.37H904.4M895.8 1255.29H904.4M895.8 1236.2H904.4M900.2 1498.8V1507.8M917.92 1498.8V1507.8M945.88 1498.8V1507.8M967.57 1498.8V1507.8M985.29 1498.8V1507.8M1000.27 1498.8V1507.8M1013.24 1498.8V1507.8M1034.93 1498.8V1507.8M1102.3 1498.8V1507.8M1141.7 1498.8V1507.8M1169.66 1498.8V1507.8M1191.35 1498.8V1507.8M1209.07 1498.8V1507.8M1224.05 1498.8V1507.8M1237.03 1498.8V1507.8M1258.72 1498.8V1507.8M1326.08 1498.8V1507.8M1365.49 1498.8V1507.8M1393.45 1498.8V1507.8M1415.13 1498.8V1507.8M1432.85 1498.8V1507.8M1447.84 1498.8V1507.8M1460.81 1498.8V1507.8M1482.5 1498.8V1507.8" stroke="#2a2a2a" stroke-width="1.35" fill="none"/>
<g style="font-family:'Liberation Sans',sans-serif;font-size:13.2px" fill="#111" stroke="#111" stroke-width="0.18"><text transform="translate(894.8,1509) scale(1.06,1)" text-anchor="end">0</text><text transform="translate(894.8,1470.83) scale(1.06,1)" text-anchor="end">20</text><text transform="translate(894.8,1432.66) scale(1.06,1)" text-anchor="end">40</text><text transform="translate(894.8,1394.49) scale(1.06,1)" text-anchor="end">60</text><text transform="translate(894.8,1356.31) scale(1.06,1)" text-anchor="end">80</text><text transform="translate(894.8,1318.14) scale(1.06,1)" text-anchor="end">100</text><text transform="translate(894.8,1279.97) scale(1.06,1)" text-anchor="end">120</text><text transform="translate(894.8,1241.8) scale(1.06,1)" text-anchor="end">140</text><text transform="translate(899.4,1525.9) scale(1.06,1)" text-anchor="middle">25</text><text transform="translate(945.08,1525.9) scale(1.06,1)" text-anchor="middle">40</text><text transform="translate(966.77,1525.9) scale(1.06,1)" text-anchor="middle">50</text><text transform="translate(984.49,1525.9) scale(1.06,1)" text-anchor="middle">60</text><text transform="translate(1012.44,1525.9) scale(1.06,1)" text-anchor="middle">80</text><text transform="translate(1034.13,1525.9) scale(1.06,1)" text-anchor="middle">100</text><text transform="translate(1101.5,1525.9) scale(1.06,1)" text-anchor="middle">200</text><text transform="translate(1140.9,1525.9) scale(1.06,1)" text-anchor="middle">300</text><text transform="translate(1168.86,1525.9) scale(1.06,1)" text-anchor="middle">400</text><text transform="translate(1190.55,1525.9) scale(1.06,1)" text-anchor="middle">500</text><text transform="translate(1236.23,1525.9) scale(1.06,1)" text-anchor="middle">800</text><text transform="translate(1257.92,1525.9) scale(1.06,1)" text-anchor="middle">1k</text><text transform="translate(1325.28,1525.9) scale(1.06,1)" text-anchor="middle">2k</text><text transform="translate(1364.69,1525.9) scale(1.06,1)" text-anchor="middle">3k</text><text transform="translate(1392.65,1525.9) scale(1.06,1)" text-anchor="middle">4k</text><text transform="translate(1414.33,1525.9) scale(1.06,1)" text-anchor="middle">5k</text><text transform="translate(1432.05,1525.9) scale(1.06,1)" text-anchor="middle">6</text><text transform="translate(1460.01,1525.9) scale(1.06,1)" text-anchor="middle">8</text><text transform="translate(1483.9,1525.9) scale(1.06,1)" text-anchor="middle">10k</text></g>
<path d="M581.1 1941.31H1163.3M581.1 1922.23H1163.3M581.1 1903.14H1163.3M581.1 1884.06H1163.3M581.1 1864.97H1163.3M581.1 1845.89H1163.3M581.1 1826.8H1163.3M581.1 1807.71H1163.3M581.1 1788.63H1163.3M581.1 1769.54H1163.3M581.1 1750.46H1163.3M581.1 1731.37H1163.3M581.1 1712.29H1163.3M581.1 1693.2H1163.3M598.82 1693.2V1960.4M626.77 1693.2V1960.4M648.45 1693.2V1960.4M666.17 1693.2V1960.4M681.15 1693.2V1960.4M694.13 1693.2V1960.4M715.81 1693.2V1960.4M783.16 1693.2V1960.4M822.56 1693.2V1960.4M850.52 1693.2V1960.4M872.2 1693.2V1960.4M889.92 1693.2V1960.4M904.9 1693.2V1960.4M917.87 1693.2V1960.4M939.55 1693.2V1960.4M1006.91 1693.2V1960.4M1046.31 1693.2V1960.4M1074.26 1693.2V1960.4M1095.95 1693.2V1960.4M1113.66 1693.2V1960.4M1128.64 1693.2V1960.4M1141.62 1693.2V1960.4M1163.3 1693.2V1960.4" stroke="#bababa" stroke-width="1.1" stroke-dasharray="1.25 1.25" fill="none"/>
<polyline points="581.9,1800.99 598.61,1809.34 614.06,1787.55 620.41,1759.75 626.77,1733.41 632.22,1717.97 638.03,1703.44 647.66,1694.72 658.2,1709.44 666.73,1741.59 669.46,1762.48 672.18,1783.37 674.55,1800.62 680.72,1814.79 688.53,1801.53 694.53,1814.25 699.98,1833.87 705.79,1841.5 711.24,1821.51 716.33,1808.25 721.23,1817.34 724.86,1845.13 729.41,1845.13 733.95,1846.4 737.58,1835.5 741.76,1849.31 745.21,1850.22 748.48,1807.89 751.57,1773.38 755.2,1756.66 758.83,1768.84 762.1,1806.07 764.83,1848.76 767.92,1839.68 773,1827.51 775.73,1846.04 777.91,1857.85 780.63,1836.59 782.99,1842.41 785.35,1855.48 787.9,1853.3 790.62,1852.4 794.44,1825.15 796.62,1835.14 799.34,1845.67 801.16,1800.62 803.52,1770.65 805.7,1763.39 807.88,1782.46 809.7,1815.16 811.51,1840.23 814.42,1818.79 815.69,1833.32 817.51,1844.22 819.32,1859.66 821.14,1837.86 823.32,1831.51 824.77,1837.86 825.68,1851.49 827.5,1842.77 829.31,1842.04 831.13,1839.68 832.04,1848.76 833.86,1836.96 835.13,1789.73 836.94,1759.75 839.31,1767.93 841.12,1815.16 842.03,1848.76 842.94,1834.23 844.21,1848.76 845.66,1843.31 846.93,1849.67 848.39,1851.12 849.66,1829.69 851.11,1820.24 852.57,1831.51 853.84,1842.77 855.65,1841.5 857.11,1861.48 859.29,1833.32 862.01,1789.73 863.83,1811.52 865.1,1842.41 866.19,1854.21 868,1842.41 869.82,1851.49 872,1836.96 873.81,1847.85 875.27,1841.5 877.08,1842.41 878.54,1856.94 879.81,1818.79 881.08,1786.09 882.53,1804.26 883.99,1851.49 885.26,1846.04 886.17,1884.19 887.62,1852.4 889.8,1844.22 891.61,1863.3 893.43,1851.49 894.34,1872.38 896.16,1826.06 897.61,1786.09 898.88,1806.07 900.33,1869.65 901.24,1848.76 902.51,1874.19 904.33,1854.21 905.78,1874.19 907.06,1866.93 908.87,1873.29 910.14,1842.41 911.23,1815.16 912.5,1844.22 913.41,1876.92 914.87,1864.2 916.14,1863.3 917.41,1876.92 918.86,1859.66 920.32,1873.29 921.59,1849.67 922.86,1806.07 923.95,1802.44 925.22,1886 926.49,1854.21 927.95,1892.36 929.22,1867.84 930.31,1896.9 931.94,1865.11 932.85,1876.92 933.76,1811.52 934.85,1829.69 936.12,1883.28 937.57,1873.29 938.84,1895.08 939.21,1816.07 946.11,1826.06 954.29,1834.23 957.92,1834.23 961.91,1825.15 965.55,1837.86 969.36,1843.31 976.08,1831.51 982.44,1840.59 988.25,1848.76 991.16,1844.22 994.61,1852.4 999.7,1840.59 1003.33,1848.76 1006.06,1854.21 1010.23,1845.13 1013.32,1854.21 1016.05,1863.3 1020.59,1873.65 1022.41,1868.74 1026.4,1866.93 1029.67,1871.11 1032.4,1869.65 1037.3,1843.86 1041.48,1867.47 1044.57,1860.57 1048.74,1876.92 1053.65,1890 1056.37,1883.28 1058.37,1886 1062.37,1860.57 1065.64,1885.09 1067.82,1884.19 1070,1878.74 1072.36,1883.28 1074.18,1894.18 1077.26,1891.45 1078.72,1884.19 1080.53,1891.45 1083.26,1886 1084.71,1877.83 1085.98,1894.18 1088.71,1892.36 1091.07,1896.9 1093.25,1888.73 1095.07,1893.27 1097.25,1889.63 1099.61,1895.08 1103.24,1896.9 1106.33,1905.08 1108.15,1893.27 1110.51,1903.26 1112.32,1895.08 1114.14,1907.8 1117.23,1891.45 1119.59,1905.98 1122.31,1902.35 1126.86,1894.18 1129.04,1900.53 1130.85,1889.63 1133.21,1900.53 1134.67,1896.9 1136.85,1908.71 1138.66,1899.63 1141.39,1902.35 1143.2,1900.53 1145.93,1911.43 1147.2,1896.9 1149.2,1914.16 1152.29,1892.9 1155.01,1901.44 1156.83,1898.72 1158.64,1911.43 1160.46,1904.17 1163,1907.8" fill="none" stroke="#22dd22" stroke-width="1.3" stroke-linejoin="round"/>
<polyline points="715.8,1749.9 961.5,1749.9 964,1751.23 994.47,1751.23 997.47,1752.57 1027.93,1752.57 1030.93,1753.9 1061.4,1753.9 1064.4,1755.23 1094.87,1755.23 1097.87,1756.57 1128.33,1756.57 1131.33,1757.9 1163.3,1757.9" fill="none" stroke="#e3454d" stroke-width="3" stroke-linejoin="round"/>
<path d="M581.1 1692.6V1961.3M580.2 1960.4H1164" stroke="#2a2a2a" stroke-width="1.8" fill="none"/>
<path d="M576.7 1960.4H585.3M576.7 1941.31H585.3M576.7 1922.23H585.3M576.7 1903.14H585.3M576.7 1884.06H585.3M576.7 1864.97H585.3M576.7 1845.89H585.3M576.7 1826.8H585.3M576.7 1807.71H585.3M576.7 1788.63H585.3M576.7 1769.54H585.3M576.7 1750.46H585.3M576.7 1731.37H585.3M576.7 1712.29H585.3M576.7 1693.2H585.3M581.1 1955.8V1964.8M598.82 1955.8V1964.8M626.77 1955.8V1964.8M648.45 1955.8V1964.8M666.17 1955.8V1964.8M681.15 1955.8V1964.8M694.13 1955.8V1964.8M715.81 1955.8V1964.8M783.16 1955.8V1964.8M822.56 1955.8V1964.8M850.52 1955.8V1964.8M872.2 1955.8V1964.8M889.92 1955.8V1964.8M904.9 1955.8V1964.8M917.87 1955.8V1964.8M939.55 1955.8V1964.8M1006.91 1955.8V1964.8M1046.31 1955.8V1964.8M1074.26 1955.8V1964.8M1095.95 1955.8V1964.8M1113.66 1955.8V1964.8M1128.64 1955.8V1964.8M1141.62 1955.8V1964.8M1163.3 1955.8V1964.8" stroke="#2a2a2a" stroke-width="1.35" fill="none"/>
<g style="font-family:'Liberation Sans',sans-serif;font-size:13.2px" fill="#111" stroke="#111" stroke-width="0.18"><text transform="translate(575.7,1966) scale(1.06,1)" text-anchor="end">0</text><text transform="translate(575.7,1927.83) scale(1.06,1)" text-anchor="end">20</text><text transform="translate(575.7,1889.66) scale(1.06,1)" text-anchor="end">40</text><text transform="translate(575.7,1851.49) scale(1.06,1)" text-anchor="end">60</text><text transform="translate(575.7,1813.31) scale(1.06,1)" text-anchor="end">80</text><text transform="translate(575.7,1775.14) scale(1.06,1)" text-anchor="end">100</text><text transform="translate(575.7,1736.97) scale(1.06,1)" text-anchor="end">120</text><text transform="translate(575.7,1698.8) scale(1.06,1)" text-anchor="end">140</text><text transform="translate(580.3,1982.9) scale(1.06,1)" text-anchor="middle">25</text><text transform="translate(625.97,1982.9) scale(1.06,1)" text-anchor="middle">40</text><text transform="translate(647.65,1982.9) scale(1.06,1)" text-anchor="middle">50</text><text transform="translate(665.37,1982.9) scale(1.06,1)" text-anchor="middle">60</text><text transform="translate(693.33,1982.9) scale(1.06,1)" text-anchor="middle">80</text><text transform="translate(715.01,1982.9) scale(1.06,1)" text-anchor="middle">100</text><text transform="translate(782.36,1982.9) scale(1.06,1)" text-anchor="middle">200</text><text transform="translate(821.76,1982.9) scale(1.06,1)" text-anchor="middle">300</text><text transform="translate(849.72,1982.9) scale(1.06,1)" text-anchor="middle">400</text><text transform="translate(871.4,1982.9) scale(1.06,1)" text-anchor="middle">500</text><text transform="translate(917.07,1982.9) scale(1.06,1)" text-anchor="middle">800</text><text transform="translate(938.75,1982.9) scale(1.06,1)" text-anchor="middle">1k</text><text transform="translate(1006.11,1982.9) scale(1.06,1)" text-anchor="middle">2k</text><text transform="translate(1045.51,1982.9) scale(1.06,1)" text-anchor="middle">3k</text><text transform="translate(1073.46,1982.9) scale(1.06,1)" text-anchor="middle">4k</text><text transform="translate(1095.15,1982.9) scale(1.06,1)" text-anchor="middle">5k</text><text transform="translate(1112.86,1982.9) scale(1.06,1)" text-anchor="middle">6</text><text transform="translate(1140.82,1982.9) scale(1.06,1)" text-anchor="middle">8</text><text transform="translate(1164.7,1982.9) scale(1.06,1)" text-anchor="middle">10k</text></g>
<text x="256.7" y="263" style="font-size:29.17px">Level dB(μA)</text>
<text x="851.6" y="264.2" style="font-size:29.17px">Level dB(μA)</text>
<text x="576.6" y="724.7" style="font-size:29.17px">Level dB(μA)</text>
<text x="256.7" y="1217.4" style="font-size:29.17px">Level dB(μA)</text>
<text x="851.2" y="1218.2" style="font-size:29.17px">Level dB(μA)</text>
<text x="576.6" y="1670.8" style="font-size:29.17px">Level dB(μA)</text>
<text x="459.7" y="614.7" style="font-size:29.17px;letter-spacing:-0.28px">Frequency</text>
<text x="612" y="614.7" style="font-size:29.17px">Hz</text>
<text x="580.19" y="616.39" style="font-size:26.28px">（</text>
<text x="648.74" y="616.39" style="font-size:26.28px">）</text>
<text x="1055.3" y="614.7" style="font-size:29.17px;letter-spacing:-0.28px">Frequency</text>
<text x="1207.6" y="614.7" style="font-size:29.17px">Hz</text>
<text x="1175.79" y="616.39" style="font-size:26.28px">（</text>
<text x="1244.34" y="616.39" style="font-size:26.28px">）</text>
<text x="767.5" y="1069.1" style="font-size:29.17px;letter-spacing:-0.28px">Frequency</text>
<text x="919.8" y="1069.1" style="font-size:29.17px">Hz</text>
<text x="887.99" y="1070.79" style="font-size:26.28px">（</text>
<text x="956.54" y="1070.79" style="font-size:26.28px">）</text>
<text x="459.7" y="1560.8" style="font-size:29.17px;letter-spacing:-0.28px">Frequency</text>
<text x="612" y="1560.8" style="font-size:29.17px">Hz</text>
<text x="580.19" y="1562.49" style="font-size:26.28px">（</text>
<text x="648.74" y="1562.49" style="font-size:26.28px">）</text>
<text x="1055.8" y="1561" style="font-size:29.17px;letter-spacing:-0.28px">Frequency</text>
<text x="1208.1" y="1561" style="font-size:29.17px">Hz</text>
<text x="1176.29" y="1562.69" style="font-size:26.28px">（</text>
<text x="1244.84" y="1562.69" style="font-size:26.28px">）</text>
<text x="767.5" y="2017.3" style="font-size:29.17px;letter-spacing:-0.28px">Frequency</text>
<text x="919.8" y="2017.3" style="font-size:29.17px">Hz</text>
<text x="887.99" y="2018.99" style="font-size:26.28px">（</text>
<text x="956.54" y="2018.99" style="font-size:26.28px">）</text>
<text x="431.4" y="654.1" style="font-size:29.17px;font-weight:bold;" fill="#000" xml:space="preserve">L1 </text>
<text x="472.73" y="655.56" style="font-size:29.17px;font-weight:bold;" fill="#000">线</text>
<text x="501.9" y="654.1" style="font-size:29.17px;font-weight:bold;" fill="#000" xml:space="preserve"> CE101 </text>
<text x="600.77" y="655.56" style="font-size:29.17px;font-weight:bold;" fill="#000">频谱图</text>
<text x="1023.2" y="654.1" style="font-size:29.17px;font-weight:bold;" fill="#000" xml:space="preserve">L2 </text>
<text x="1064.53" y="655.56" style="font-size:29.17px;font-weight:bold;" fill="#000">线</text>
<text x="1093.7" y="654.1" style="font-size:29.17px;font-weight:bold;" fill="#000" xml:space="preserve"> CE101 </text>
<text x="1192.57" y="655.56" style="font-size:29.17px;font-weight:bold;" fill="#000">频谱图</text>
<text x="735.6" y="1107.3" style="font-size:29.17px;font-weight:bold;" fill="#000" xml:space="preserve">L3 </text>
<text x="776.93" y="1108.76" style="font-size:29.17px;font-weight:bold;" fill="#000">线</text>
<text x="806.1" y="1107.3" style="font-size:29.17px;font-weight:bold;" fill="#000" xml:space="preserve"> CE101 </text>
<text x="904.97" y="1108.76" style="font-size:29.17px;font-weight:bold;" fill="#000">频谱图</text>
<text x="431.4" y="1599.3" style="font-size:29.17px;font-weight:bold;" fill="#000" xml:space="preserve">L1 </text>
<text x="472.73" y="1600.76" style="font-size:29.17px;font-weight:bold;" fill="#000">线</text>
<text x="501.9" y="1599.3" style="font-size:29.17px;font-weight:bold;" fill="#000" xml:space="preserve"> CE101 </text>
<text x="600.77" y="1600.76" style="font-size:29.17px;font-weight:bold;" fill="#000">频谱图</text>
<text x="1023.2" y="1599.3" style="font-size:29.17px;font-weight:bold;" fill="#000" xml:space="preserve">L2 </text>
<text x="1064.53" y="1600.76" style="font-size:29.17px;font-weight:bold;" fill="#000">线</text>
<text x="1093.7" y="1599.3" style="font-size:29.17px;font-weight:bold;" fill="#000" xml:space="preserve"> CE101 </text>
<text x="1192.57" y="1600.76" style="font-size:29.17px;font-weight:bold;" fill="#000">频谱图</text>
<text x="735.6" y="2056.7" style="font-size:29.17px;font-weight:bold;" fill="#000" xml:space="preserve">L3 </text>
<text x="776.93" y="2058.16" style="font-size:29.17px;font-weight:bold;" fill="#000">线</text>
<text x="806.1" y="2056.7" style="font-size:29.17px;font-weight:bold;" fill="#000" xml:space="preserve"> CE101 </text>
<text x="904.97" y="2058.16" style="font-size:29.17px;font-weight:bold;" fill="#000">频谱图</text>
<text x="730.3" y="2244.96" style="font-size:29.17px;font-weight:bold;" fill="#000">第</text>
<text x="759.47" y="2243.5" style="font-size:29.17px;font-weight:bold;" fill="#000" xml:space="preserve"> 11 </text>
<text x="803.23" y="2244.96" style="font-size:29.17px;font-weight:bold;" fill="#000">页</text>
<text x="832.39" y="2243.5" style="font-size:29.17px;font-weight:bold;" fill="#000" xml:space="preserve">  </text>
<text x="846.98" y="2244.96" style="font-size:29.17px;font-weight:bold;" fill="#000">共</text>
<text x="876.15" y="2243.5" style="font-size:29.17px;font-weight:bold;" fill="#000" xml:space="preserve"> 132 </text>
<text x="934.49" y="2244.96" style="font-size:29.17px;font-weight:bold;" fill="#000">页</text>
<polygon points="500,420 540,470 574,573 609.7,606 628.6,645 689,715 880,1029 890,1069 905,1107 962,1210 1187,1522 1207,1561 1225,1599 1398.7,1851.8 1234.3,1956.5 1139,1755 1017,1599 942,1503.5 900,1395 877,1312 812,1298 649,1029 634.4,1010.5 583.7,921.6 568,881 355,573 322,522" fill="#fff" fill-opacity="0.5"/>
<g transform="translate(861.5,1185.3) rotate(57.5)" fill="#000" fill-opacity="0.032"><text x="-834.75 -667.25 -499.75 -332.25 -164.75 2.75 170.25 337.75 505.25 672.75" y="61.56" style="font-family:'Liberation Sans','Noto Sans CJK SC',sans-serif;font-size:162px">扬州恒瑞电气有限公司</text></g>
</svg>
</body></html>
